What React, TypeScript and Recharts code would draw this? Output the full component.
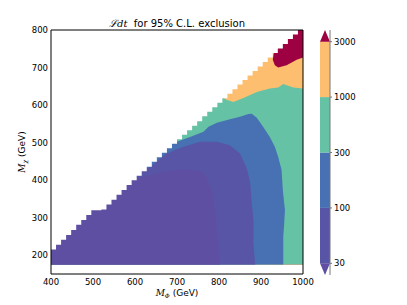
import { ComposedChart, Area, XAxis, YAxis, BarChart, Bar } from 'recharts';

const xTicks = [400, 500, 600, 700, 800, 900, 1000];
const yTicks = [200, 300, 400, 500, 600, 700, 800];

// kinematic edge: top of each grid column (M_phi, M_chi)
const edgeX = [400, 412, 424, 436, 448, 460, 472, 484, 496, 508, 520, 532, 544, 556, 568, 580, 592, 604, 616, 628, 640, 652, 664, 676, 688, 700, 712, 724, 736, 748, 760, 772, 784, 796, 808, 820, 832, 844, 856, 868, 880, 892, 904, 916, 928, 940, 952, 964, 976, 988, 1000];
const edgeY = [215, 228, 241, 254, 267, 281, 294, 307, 320, 320, 322, 335, 348, 361, 374, 387, 400, 412, 424, 436, 449, 461, 473, 485, 497, 509, 521, 533, 545, 557, 570, 582, 594, 606, 618, 630, 642, 655, 667, 679, 691, 703, 715, 727, 739, 751, 763, 776, 788, 800, 800];

// contour outlines, region below each level (M_phi, M_chi)
const below3000 = [[400, 800], [948, 800], [940, 760], [931, 743], [928, 721], [933, 706], [941, 700], [961, 706], [985, 721], [1000, 727]];
const below1000 = [[400, 800], [780, 800], [804, 623], [818, 614], [834, 608], [858, 619], [890, 635], [921, 644], [941, 647], [953, 656], [977, 647], [1000, 644]];
const below300 = [[400, 800], [630, 800], [645, 466], [665, 485], [695, 500], [731, 515], [763, 529], [775, 542], [795, 553], [826, 562], [850, 569], [870, 576], [878, 577], [890, 566], [905, 542], [921, 515], [933, 489], [941, 462], [949, 427], [952, 373], [957, 320], [955, 280], [953, 249], [953, 175]];
const below100 = [[400, 800], [590, 800], [600, 420], [636, 435], [675, 471], [715, 489], [755, 502], [795, 502], [826, 493], [850, 471], [866, 432], [874, 395], [878, 340], [882, 293], [882, 231], [886, 175]];
const below30 = [[400, 800], [570, 800], [580, 400], [596, 402], [652, 418], [699, 428], [755, 425], [771, 408], [783, 370], [790, 320], [795, 260], [802, 175]];

const levelLabels = ['30', '100', '300', '1000', '3000'];
const underColor = '#5e4fa2';
const bandColors = ['#5955a6', '#4771b2', '#66c2a5', '#fdbf6f'];
const overColor = '#9e0142';

const layers = [
  { key: 'l3000', pts: below3000, fill: '#fdbf6f' },
  { key: 'l1000', pts: below1000, fill: '#66c2a5' },
  { key: 'l300', pts: below300, fill: '#4771b2' },
  { key: 'l100', pts: below100, fill: '#5955a6' },
  { key: 'l30', pts: below30, fill: '#5e4fa2' },
];

const fullRegion = [{ x: 400, y: 800 }, { x: 1000, y: 800 }];
const edgeData = edgeX.map((x, i) => ({ x, y: edgeY[i] }));

const TRI = 0.21;
const barRow = [{ under: TRI, b0: 1, b1: 1, b2: 1, b3: 1, over: TRI }];
const barTicks = levelLabels.map((_, i) => TRI + i);

const font = 'DejaVu Sans, sans-serif';

function TriDown(p: any) {
  const { x, y, width, height, fill } = p;
  return <polygon points={`${x},${y} ${x + width},${y} ${x + width / 2},${y + height}`} fill={fill} />;
}
function TriUp(p: any) {
  const { x, y, width, height, fill } = p;
  return <polygon points={`${x},${y + height} ${x + width},${y + height} ${x + width / 2},${y}`} fill={fill} />;
}

const margin = { top: 30, right: 104, bottom: 0, left: 0 };

function Ghost({ xId, yId }: { xId: string; yId: string }) {
  return null;
}

export default function App() {
  const ghost = (xId: string, yId: string) => (
    <Area key={xId + yId} xAxisId={xId} yAxisId={yId} data={fullRegion} dataKey="y" type="linear" baseValue={175}
      fill="none" fillOpacity={0} stroke="none" dot={false} activeDot={false} isAnimationActive={false} />
  );
  return (
    <div style={{ position: 'absolute', left: 0, top: 0, width: 407, height: 305, background: '#fff' }}>
      {/* filled contours */}
      <div style={{ position: 'absolute', left: 0, top: 0 }}>
        <ComposedChart width={407} height={305} margin={margin}>
          <Area xAxisId="x" yAxisId="y" data={fullRegion} dataKey="y" type="linear" baseValue={175}
            fill={overColor} fillOpacity={1} stroke="none" dot={false} activeDot={false} isAnimationActive={false} />
          {layers.map((l) => (
            <Area key={l.key} xAxisId="x" yAxisId="y" data={l.pts.map(([x, y]) => ({ x, y }))} dataKey="y"
              type="linear" baseValue={175} fill={l.fill} fillOpacity={1} stroke="none"
              dot={false} activeDot={false} isAnimationActive={false} />
          ))}
          <Area xAxisId="x" yAxisId="y" data={edgeData} dataKey="y" type="stepAfter" baseValue={800}
            fill="#ffffff" fillOpacity={1} stroke="none" dot={false} activeDot={false} isAnimationActive={false} />
          <XAxis xAxisId="x" dataKey="x" type="number" domain={[400, 1000]} allowDataOverflow ticks={xTicks}
            height={31} tick={false} tickLine={false} axisLine={false} />
          <YAxis yAxisId="y" dataKey="y" type="number" domain={[150, 800]} allowDataOverflow ticks={yTicks}
            width={51} tick={false} tickLine={false} axisLine={false} />
        </ComposedChart>
      </div>
      {/* frame, ticks and tick labels drawn over the contours */}
      <div style={{ position: 'absolute', left: 0, top: 0 }}>
        <ComposedChart width={407} height={305} margin={margin}>
          {ghost('x', 'y')}
          {ghost('xt', 'yr')}
          {ghost('xb', 'yl')}
          <XAxis xAxisId="x" dataKey="x" type="number" domain={[400, 1000]} allowDataOverflow ticks={xTicks}
            height={31} tickSize={0} tickMargin={5} tickLine={false} stroke="#000"
            tick={{ fill: '#000', fontSize: 8.5, fontFamily: font }} />
          <XAxis xAxisId="xb" dataKey="x" type="number" domain={[400, 1000]} allowDataOverflow ticks={xTicks}
            orientation="bottom" mirror height={1} tick={false} tickSize={4} axisLine={false} stroke="#000" />
          <XAxis xAxisId="xt" dataKey="x" type="number" domain={[400, 1000]} allowDataOverflow ticks={xTicks}
            orientation="top" mirror height={1} tick={false} tickSize={4} stroke="#000" />
          <YAxis yAxisId="y" dataKey="y" type="number" domain={[150, 800]} allowDataOverflow ticks={yTicks}
            width={51} tickSize={0} tickMargin={3} tickLine={false} stroke="#000"
            tick={{ fill: '#000', fontSize: 8.5, fontFamily: font }} />
          <YAxis yAxisId="yl" dataKey="y" type="number" domain={[150, 800]} allowDataOverflow ticks={yTicks}
            orientation="left" mirror width={1} tick={false} tickSize={4} axisLine={false} stroke="#000" />
          <YAxis yAxisId="yr" dataKey="y" type="number" domain={[150, 800]} allowDataOverflow ticks={yTicks}
            orientation="right" mirror width={1} tick={false} tickSize={4} stroke="#000" />
        </ComposedChart>
      </div>
      {/* colour bar */}
      <div style={{ position: 'absolute', left: 320, top: 30 }}>
        <BarChart width={50} height={245} data={barRow} margin={{ top: 0, right: 0, bottom: 0, left: 0 }}
          barCategoryGap={0}>
          <XAxis hide type="category" />
          <YAxis orientation="right" type="number" domain={[0, 4 + 2 * TRI]} allowDataOverflow ticks={barTicks}
            width={40} tickSize={2} tickMargin={2} stroke="#777"
            tickFormatter={(v: number) => levelLabels[Math.round(v - TRI)]}
            tick={{ fill: '#000', fontSize: 8.5, fontFamily: font }} />
          <Bar dataKey="under" stackId="c" fill={underColor} shape={TriDown} isAnimationActive={false} />
          {bandColors.map((c, i) => (
            <Bar key={i} dataKey={`b${i}`} stackId="c" fill={c} isAnimationActive={false} />
          ))}
          <Bar dataKey="over" stackId="c" fill={overColor} shape={TriUp} isAnimationActive={false} />
        </BarChart>
      </div>
      <svg width={407} height={305} style={{ position: 'absolute', left: 0, top: 0, pointerEvents: 'none' }}>
        <text x={177} y={27} textAnchor="middle" fontSize={10} fontFamily={font} fill="#000">
          <tspan fontStyle="italic" fontFamily="DejaVu Serif, serif">ℒdt</tspan>
          <tspan>{'\u00a0 for 95% C.L. exclusion'}</tspan>
        </text>
        <text x={177} y={296} textAnchor="middle" fontSize={9} fontFamily={font} fill="#000">
          <tspan fontStyle="italic" fontFamily="DejaVu Serif, serif">M</tspan>
          <tspan fontSize={6} dy={2} fontStyle="italic" fontFamily="DejaVu Serif, serif">Φ</tspan>
          <tspan dy={-2}>{'\u00a0(GeV)'}</tspan>
        </text>
        <text transform="translate(25,152) rotate(-90)" textAnchor="middle" fontSize={9} fontFamily={font} fill="#000">
          <tspan fontStyle="italic" fontFamily="DejaVu Serif, serif">M</tspan>
          <tspan fontSize={6} dy={2} fontStyle="italic" fontFamily="DejaVu Serif, serif">χ</tspan>
          <tspan dy={-2}>{'\u00a0(GeV)'}</tspan>
        </text>
      </svg>
    </div>
  );
}
